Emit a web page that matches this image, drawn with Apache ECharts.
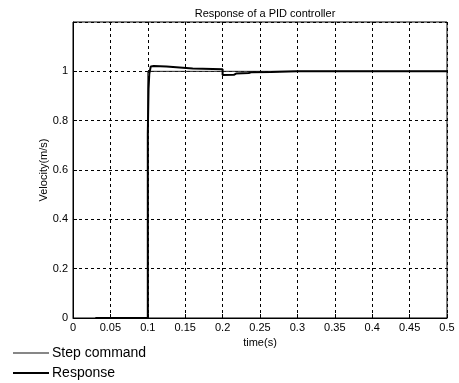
<!DOCTYPE html>
<html><head><meta charset="utf-8">
<script src="https://cdn.jsdelivr.net/npm/echarts@6/dist/echarts.min.js"></script>
<style>html,body{margin:0;padding:0;background:#fff}#c{width:459px;height:383px}</style>
</head><body><div id="c"></div>
<script>
var titleText = 'Response of a PID controller';
var xTicks = [0,0.05,0.1,0.15,0.2,0.25,0.3,0.35,0.4,0.45,0.5];
var yTicks = [0,0.2,0.4,0.6,0.8,1];
var stepT = [0.03,0.1,0.1,0.5];
var stepV = [0,0,1,1];
var respT = [0.03,0.1,0.1,0.101,0.102,0.104,0.108,0.125,0.127,0.16,0.2,0.2,0.215,0.218,0.235,0.238,0.265,0.3,0.5];
var respV = [0,0,0.75,0.93,0.99,1.02,1.022,1.02,1.013,1.011,1.008,0.985,0.986,0.991,0.993,0.996,0.997,1.0,1.0];

function pairs(t,v){return t.map(function(x,i){return [x,v[i]];});}
var font = 'Liberation Sans, Arial, sans-serif';
var legTxt = {fontSize:14,color:'#000',fontFamily:font,padding:[0,0,0,-2]};
var chart = echarts.init(document.getElementById('c'));
chart.setOption({
  animation:false,
  title:{text:titleText,left:260,textAlign:'center',top:3,textStyle:{fontSize:11,fontWeight:'normal',color:'#000',fontFamily:font}},
  grid:{left:73,right:12,top:22,bottom:65,show:true,borderColor:'#000',borderWidth:1,backgroundColor:'#fff'},
  legend:[
    {left:8,top:341,itemWidth:36,itemHeight:1,icon:'rect',selectedMode:false,textStyle:legTxt,
     data:[{name:'Step command',itemStyle:{color:'#111'}}]},
    {left:8,top:361,itemWidth:36,itemHeight:2,icon:'rect',selectedMode:false,textStyle:legTxt,
     data:[{name:'Response',itemStyle:{color:'#000'}}]}
  ],
  xAxis:{type:'value',min:0,max:0.5,interval:0.05,name:'time(s)',nameLocation:'middle',nameGap:19,nameMoveOverlap:false,
    nameTextStyle:{fontSize:11,color:'#000',fontFamily:font},
    axisLine:{lineStyle:{color:'#000'}},axisTick:{inside:true,length:4,lineStyle:{color:'#000'}},
    axisLabel:{fontSize:11,color:'#000',fontFamily:font,margin:4,formatter:function(v){return String(+v.toFixed(2));}},
    splitLine:{show:true,lineStyle:{color:'#000',type:[3,3],width:1}}},
  yAxis:{type:'value',min:0,max:1.2,interval:0.2,name:'Velocity(m/s)',nameLocation:'middle',nameGap:24,nameMoveOverlap:false,
    nameTextStyle:{fontSize:11,color:'#000',fontFamily:font},
    axisLine:{lineStyle:{color:'#000'}},axisTick:{inside:true,length:4,lineStyle:{color:'#000'}},
    axisLabel:{fontSize:11,color:'#000',fontFamily:font,margin:5,formatter:function(v){return v>1.1?'':String(+v.toFixed(1));}},
    splitLine:{show:true,lineStyle:{color:'#000',type:[3,3],width:1}}},
  series:[
    {name:'Step command',type:'line',symbol:'none',data:pairs(stepT,stepV),lineStyle:{color:'#222',width:1},itemStyle:{color:'#222'},z:2},
    {name:'Response',type:'line',symbol:'none',data:pairs(respT,respV),lineStyle:{color:'#000',width:2},itemStyle:{color:'#000'},z:3}
  ]
});
</script></body></html>
